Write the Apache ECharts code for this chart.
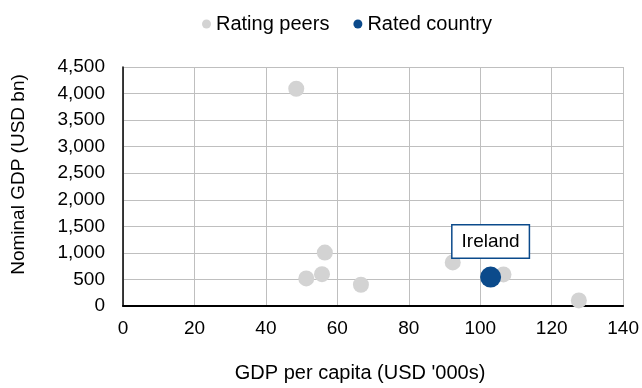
<!DOCTYPE html>
<html>
<head>
<meta charset="utf-8">
<script src="https://cdn.jsdelivr.net/npm/echarts@6/dist/echarts.min.js"></script>
<style>
  html, body { margin: 0; padding: 0; background: #fff; }
  #chart { width: 642px; height: 388px; }
</style>
</head>
<body>
<div id="chart"></div>
<script>
// GDP per capita (USD '000s) and nominal GDP (USD bn)
const peerGdpPerCapita = [48.5, 56.5, 55.7, 51.3, 66.6, 92.3, 106.5, 127.6];
const peerNominalGdp   = [4090, 1005, 600, 520, 400, 820, 595, 105];

const ratedName = 'Ireland';
const ratedGdpPerCapita = [102.9];
const ratedNominalGdp   = [545];

const xTicks = { min: 0, max: 140, interval: 20 };
const yTicks = { min: 0, max: 4500, interval: 500 };

const FONT = '"Liberation Sans", Arial, sans-serif';
const TEXT = '#000';
const FS = 19;

const chart = echarts.init(document.getElementById('chart'), null, { renderer: 'canvas' });

chart.setOption({
  animation: false,
  backgroundColor: '#fff',
  textStyle: { fontFamily: FONT },
  legend: {
    top: 9,
    left: 197,
    icon: 'circle',
    itemWidth: 9,
    itemHeight: 9,
    itemGap: 24,
    textStyle: { fontFamily: FONT, fontSize: 20, color: TEXT },
    data: ['Rating peers', 'Rated country']
  },
  grid: { left: 123, right: 17, top: 67, bottom: 81 },
  xAxis: {
    type: 'value',
    min: xTicks.min, max: xTicks.max, interval: xTicks.interval,
    name: "GDP per capita (USD '000s)",
    nameLocation: 'middle',
    nameGap: 57,
    nameTextStyle: { fontFamily: FONT, fontSize: 20, color: TEXT, padding: [0, 26, 0, 0] },
    axisLine: { show: true, lineStyle: { color: '#000', width: 2 } },
    axisTick: { show: false },
    axisLabel: { fontFamily: FONT, fontSize: FS, color: TEXT, margin: 13 },
    splitLine: { show: true, lineStyle: { color: '#bfbfbf', width: 1 } }
  },
  yAxis: {
    type: 'value',
    min: yTicks.min, max: yTicks.max, interval: yTicks.interval,
    name: 'Nominal GDP (USD bn)',
    nameLocation: 'middle',
    nameRotate: 90,
    nameGap: 95,
    nameTextStyle: { fontFamily: FONT, fontSize: FS, color: TEXT, padding: [0, 0, 0, 24] },
    axisLine: { show: true, lineStyle: { color: '#000', width: 1.5 } },
    axisTick: { show: false },
    axisLabel: {
      fontFamily: FONT, fontSize: FS, color: TEXT, margin: 18,
      formatter: v => v.toLocaleString('en-US')
    },
    splitLine: { show: true, lineStyle: { color: '#bfbfbf', width: 1 } }
  },
  series: [
    {
      name: 'Rating peers',
      type: 'scatter',
      symbol: 'circle',
      symbolSize: 16,
      itemStyle: { color: '#d3d3d3', opacity: 1 },
      data: peerGdpPerCapita.map((x, i) => [x, peerNominalGdp[i]]),
      z: 2
    },
    {
      name: 'Rated country',
      type: 'scatter',
      symbol: 'circle',
      symbolSize: 21,
      itemStyle: { color: '#0b4a8b', opacity: 1 },
      data: ratedGdpPerCapita.map((x, i) => ({ name: ratedName, value: [x, ratedNominalGdp[i]] })),
      label: {
        show: true,
        position: 'top',
        distance: 9,
        formatter: '{b}',
        fontFamily: FONT,
        fontSize: FS,
        color: TEXT,
        backgroundColor: '#fff',
        borderColor: '#0b4a8b',
        borderWidth: 1.5,
        padding: [6, 9, 6, 9],
        lineHeight: 20
      },
      z: 3
    }
  ]
});
</script>
</body>
</html>
